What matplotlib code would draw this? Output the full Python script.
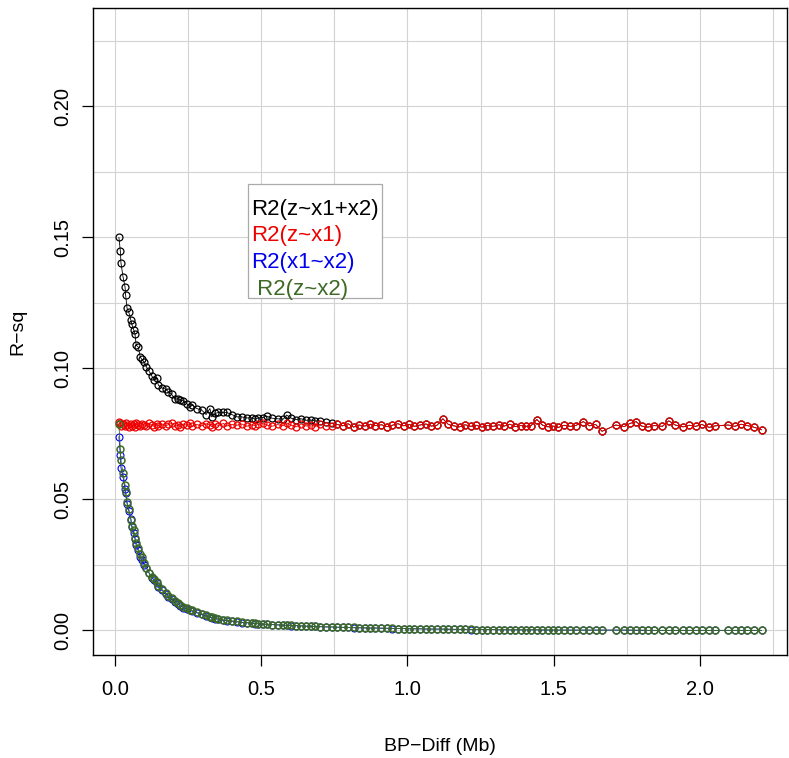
import matplotlib
matplotlib.use("Agg")
import matplotlib.pyplot as plt
from matplotlib.patches import Rectangle

plt.rcParams['font.family'] = ['Liberation Sans', 'DejaVu Sans']

# ---------------- data ----------------
bp_diff = [
    0.014, 0.019, 0.021, 0.028, 0.035, 0.037, 0.042, 0.048, 0.055, 0.058,
    0.065, 0.069, 0.073, 0.080, 0.087, 0.092, 0.101, 0.108, 0.117, 0.126,
    0.135, 0.143, 0.149, 0.160, 0.174, 0.183, 0.194, 0.206, 0.215, 0.223,
    0.234, 0.246, 0.257, 0.265, 0.280, 0.297, 0.312, 0.325, 0.331, 0.343,
    0.354, 0.371, 0.382, 0.400, 0.417, 0.434, 0.451, 0.468, 0.480, 0.490,
    0.505, 0.519, 0.537, 0.556, 0.575, 0.587, 0.603, 0.620, 0.636, 0.655,
    0.671, 0.684, 0.702, 0.720, 0.741, 0.760, 0.779, 0.797, 0.816, 0.834,
    0.855, 0.873, 0.890, 0.911, 0.930, 0.948, 0.967, 0.988, 1.006, 1.024,
    1.043, 1.063, 1.082, 1.101, 1.121, 1.140, 1.158, 1.178, 1.197, 1.216,
    1.235, 1.254, 1.272, 1.293, 1.312, 1.331, 1.350, 1.368, 1.388, 1.405,
    1.422, 1.442, 1.461, 1.480, 1.497, 1.516, 1.535, 1.556, 1.575, 1.601,
    1.622, 1.643, 1.665, 1.712, 1.741, 1.760, 1.781, 1.800, 1.822, 1.843,
    1.871, 1.893, 1.915, 1.942, 1.963, 1.985, 2.006, 2.031, 2.052, 2.096,
    2.118, 2.140, 2.161, 2.183, 2.210,
]

r2_z_x1x2 = [
    0.1500, 0.1448, 0.1403, 0.1350, 0.1311, 0.1280, 0.1229, 0.1214, 0.1184, 0.1169,
    0.1146, 0.1131, 0.1089, 0.1082, 0.1044, 0.1035, 0.1023, 0.1006, 0.0990, 0.0972,
    0.0955, 0.0962, 0.0936, 0.0926, 0.0921, 0.0911, 0.0901, 0.0882, 0.0885, 0.0879,
    0.0877, 0.0866, 0.0853, 0.0860, 0.0847, 0.0841, 0.0824, 0.0847, 0.0815, 0.0828,
    0.0832, 0.0832, 0.0832, 0.0824, 0.0815, 0.0815, 0.0811, 0.0811, 0.0806, 0.0811,
    0.0812, 0.0818, 0.0810, 0.0808, 0.0806, 0.0822, 0.0810, 0.0805, 0.0808, 0.0802,
    0.0803, 0.0800, 0.0798, 0.0794, 0.0790, 0.0786, 0.0781, 0.0789, 0.0776, 0.0784,
    0.0780, 0.0787, 0.0782, 0.0785, 0.0778, 0.0783, 0.0789, 0.0781, 0.0786, 0.0779,
    0.0784, 0.0788, 0.0780, 0.0783, 0.0808, 0.0786, 0.0781, 0.0777, 0.0785, 0.0779,
    0.0783, 0.0776, 0.0782, 0.0779, 0.0785, 0.0780, 0.0787, 0.0778, 0.0782, 0.0779,
    0.0781, 0.0805, 0.0784, 0.0777, 0.0780, 0.0775, 0.0783, 0.0779, 0.0782, 0.0797,
    0.0781, 0.0786, 0.0760, 0.0784, 0.0778, 0.0790, 0.0797, 0.0780, 0.0776, 0.0782,
    0.0779, 0.0800, 0.0784, 0.0777, 0.0783, 0.0779, 0.0786, 0.0775, 0.0781, 0.0784,
    0.0779, 0.0787, 0.0782, 0.0776, 0.0766,
]

r2_z_x1 = [
    0.0795, 0.0790, 0.0782, 0.0788, 0.0779, 0.0792, 0.0784, 0.0778, 0.0789, 0.0781,
    0.0786, 0.0776, 0.0790, 0.0783, 0.0779, 0.0788, 0.0785, 0.0780, 0.0791, 0.0784,
    0.0778, 0.0787, 0.0782, 0.0789, 0.0780, 0.0786, 0.0790, 0.0781, 0.0785, 0.0777,
    0.0788, 0.0783, 0.0791, 0.0779, 0.0786, 0.0781, 0.0789, 0.0784, 0.0778, 0.0787,
    0.0782, 0.0790, 0.0780, 0.0786, 0.0783, 0.0788, 0.0779, 0.0785, 0.0781, 0.0787,
    0.0790, 0.0784, 0.0779, 0.0786, 0.0781, 0.0792, 0.0783, 0.0777, 0.0788, 0.0780,
    0.0785, 0.0778, 0.0787, 0.0782, 0.0779, 0.0786, 0.0781, 0.0789, 0.0776, 0.0784,
    0.0780, 0.0787, 0.0782, 0.0785, 0.0778, 0.0783, 0.0789, 0.0781, 0.0786, 0.0779,
    0.0784, 0.0788, 0.0780, 0.0783, 0.0808, 0.0786, 0.0781, 0.0777, 0.0785, 0.0779,
    0.0783, 0.0776, 0.0782, 0.0779, 0.0785, 0.0780, 0.0787, 0.0778, 0.0782, 0.0779,
    0.0781, 0.0805, 0.0784, 0.0777, 0.0780, 0.0775, 0.0783, 0.0779, 0.0782, 0.0797,
    0.0781, 0.0786, 0.0760, 0.0784, 0.0778, 0.0790, 0.0797, 0.0780, 0.0776, 0.0782,
    0.0779, 0.0800, 0.0784, 0.0777, 0.0783, 0.0779, 0.0786, 0.0775, 0.0781, 0.0784,
    0.0779, 0.0787, 0.0782, 0.0776, 0.0766,
]

r2_x1_x2 = [
    0.0739, 0.0669, 0.0621, 0.0586, 0.0540, 0.0525, 0.0482, 0.0455, 0.0425, 0.0395,
    0.0370, 0.0350, 0.0325, 0.0305, 0.0281, 0.0270, 0.0250, 0.0238, 0.0220, 0.0200,
    0.0192, 0.0180, 0.0166, 0.0154, 0.0139, 0.0128, 0.0119, 0.0109, 0.0101, 0.0094,
    0.0087, 0.0081, 0.0076, 0.0073, 0.0067, 0.0061, 0.0055, 0.0050, 0.0048, 0.0045,
    0.0042, 0.0038, 0.0037, 0.0035, 0.0033, 0.0030, 0.0029, 0.0027, 0.0026, 0.0025,
    0.0024, 0.0023, 0.0022, 0.0021, 0.0020, 0.0019, 0.0018, 0.0018, 0.0017, 0.0016,
    0.0015, 0.0015, 0.0014, 0.0013, 0.0013, 0.0012, 0.0011, 0.0011, 0.0010, 0.0010,
    0.0009, 0.0009, 0.0009, 0.0008, 0.0008, 0.0007, 0.0007, 0.0007, 0.0006, 0.0006,
    0.0006, 0.0005, 0.0005, 0.0005, 0.0005, 0.0004, 0.0004, 0.0004, 0.0004, 0.0003,
    0.0003, 0.0003, 0.0003, 0.0003, 0.0002, 0.0002, 0.0002, 0.0002, 0.0002, 0.0002,
    0.0002, 0.0002, 0.0001, 0.0001, 0.0001, 0.0001, 0.0001, 0.0001, 0.0001, 0.0001,
    0.0001, 0.0001, 0.0001, 0.0001, 0.0001, 0.0001, 0.0000, 0.0000, 0.0000, 0.0000,
    0.0000, 0.0000, 0.0000, 0.0000, 0.0000, 0.0000, 0.0000, 0.0000, 0.0000, 0.0000,
    0.0000, 0.0000, 0.0000, 0.0000, 0.0000,
]

r2_z_x2 = [
    0.0788, 0.0691, 0.0650, 0.0600, 0.0555, 0.0530, 0.0490, 0.0462, 0.0421, 0.0400,
    0.0385, 0.0351, 0.0335, 0.0313, 0.0290, 0.0281, 0.0256, 0.0240, 0.0218, 0.0205,
    0.0198, 0.0185, 0.0170, 0.0158, 0.0142, 0.0130, 0.0122, 0.0112, 0.0104, 0.0097,
    0.0090, 0.0084, 0.0079, 0.0076, 0.0070, 0.0063, 0.0057, 0.0052, 0.0050, 0.0046,
    0.0044, 0.0040, 0.0038, 0.0036, 0.0034, 0.0031, 0.0030, 0.0028, 0.0027, 0.0026,
    0.0024, 0.0023, 0.0022, 0.0021, 0.0020, 0.0019, 0.0019, 0.0018, 0.0017, 0.0016,
    0.0016, 0.0015, 0.0014, 0.0014, 0.0013, 0.0012, 0.0012, 0.0011, 0.0011, 0.0010,
    0.0010, 0.0009, 0.0009, 0.0009, 0.0008, 0.0008, 0.0007, 0.0007, 0.0007, 0.0006,
    0.0006, 0.0006, 0.0005, 0.0005, 0.0005, 0.0005, 0.0004, 0.0004, 0.0004, 0.0004,
    0.0003, 0.0003, 0.0003, 0.0003, 0.0003, 0.0003, 0.0002, 0.0002, 0.0002, 0.0002,
    0.0002, 0.0002, 0.0002, 0.0002, 0.0001, 0.0001, 0.0001, 0.0001, 0.0001, 0.0001,
    0.0001, 0.0001, 0.0001, 0.0001, 0.0001, 0.0001, 0.0001, 0.0001, 0.0000, 0.0000,
    0.0000, 0.0000, 0.0000, 0.0000, 0.0000, 0.0000, 0.0000, 0.0000, 0.0000, 0.0000,
    0.0000, 0.0000, 0.0000, 0.0000, 0.0000,
]

series_labels = ["R2(z~x1+x2)", "R2(z~x1)", "R2(x1~x2)", " R2(z~x2)"]
series_colors = ["black", "#ee0000", "#0000ee", "#3d6b25"]
series_mew = [0.9, 0.9, 0.8, 1.1]

x_ticks = [0.0, 0.5, 1.0, 1.5, 2.0]
y_ticks = [0.00, 0.05, 0.10, 0.15, 0.20]
x_tick_labels = ["0.0", "0.5", "1.0", "1.5", "2.0"]
y_tick_labels = ["0.00", "0.05", "0.10", "0.15", "0.20"]

# ---------------- figure ----------------
W, H = 789, 758
fig = plt.figure(figsize=(W / 100, H / 100), dpi=100)
ax = fig.add_axes([93 / W, 1 - 655 / H, (787 - 93) / W, (655 - 8) / H])

ax.set_xlim(-0.0745, 2.297)
ax.set_ylim(-0.0094, 0.2376)

# grid
for gx in [i * 0.25 for i in range(10)]:
    ax.axvline(gx, color="#d3d3d3", lw=0.8, zorder=0)
for gy in [i * 0.025 for i in range(10)]:
    ax.axhline(gy, color="#d3d3d3", lw=0.8, zorder=0)

all_series = [r2_z_x1x2, r2_z_x1, r2_x1_x2, r2_z_x2]
for ys, col, mw in zip(all_series, series_colors, series_mew):
    ax.plot(bp_diff, ys, color=col, lw=0.6, marker="o", ms=5.0,
            mfc="none", mec=col, mew=mw, zorder=2)

# axes styling (R base style)
for sp in ax.spines.values():
    sp.set_color("black")
    sp.set_linewidth(1.0)
ax.set_xticks(x_ticks)
ax.set_xticklabels(x_tick_labels)
ax.set_yticks(y_ticks)
ax.set_yticklabels(y_tick_labels, rotation=90, va="center")
ax.tick_params(axis="both", direction="out", length=8, width=0.9,
               labelsize=14.5, top=False, right=False)
ax.tick_params(axis="x", pad=10)
ax.tick_params(axis="y", pad=7)

ax.set_xlabel("BP\u2212Diff (Mb)", fontsize=14, labelpad=28)
ax.set_ylabel("R\u2212sq", fontsize=14, labelpad=19)

# legend (text only, coloured)
bx0 = (248 - 93) / 694
bx1 = (382 - 93) / 694
by_top = (655 - 184) / 647
by_bot = (655 - 298) / 647
ax.add_patch(Rectangle((bx0, by_bot), bx1 - bx0, by_top - by_bot, transform=ax.transAxes,
                       facecolor="white", edgecolor="#aaaaaa", lw=0.9, zorder=5))
text_y = [(655 - py) / 647 for py in (209, 236, 262.5, 289)]
for lab, col, ty in zip(series_labels, series_colors, text_y):
    ax.text((251 - 93) / 694, ty, lab, color=col, fontsize=16, transform=ax.transAxes,
            ha="left", va="center", zorder=6)

fig.savefig("out.png", dpi=100)
